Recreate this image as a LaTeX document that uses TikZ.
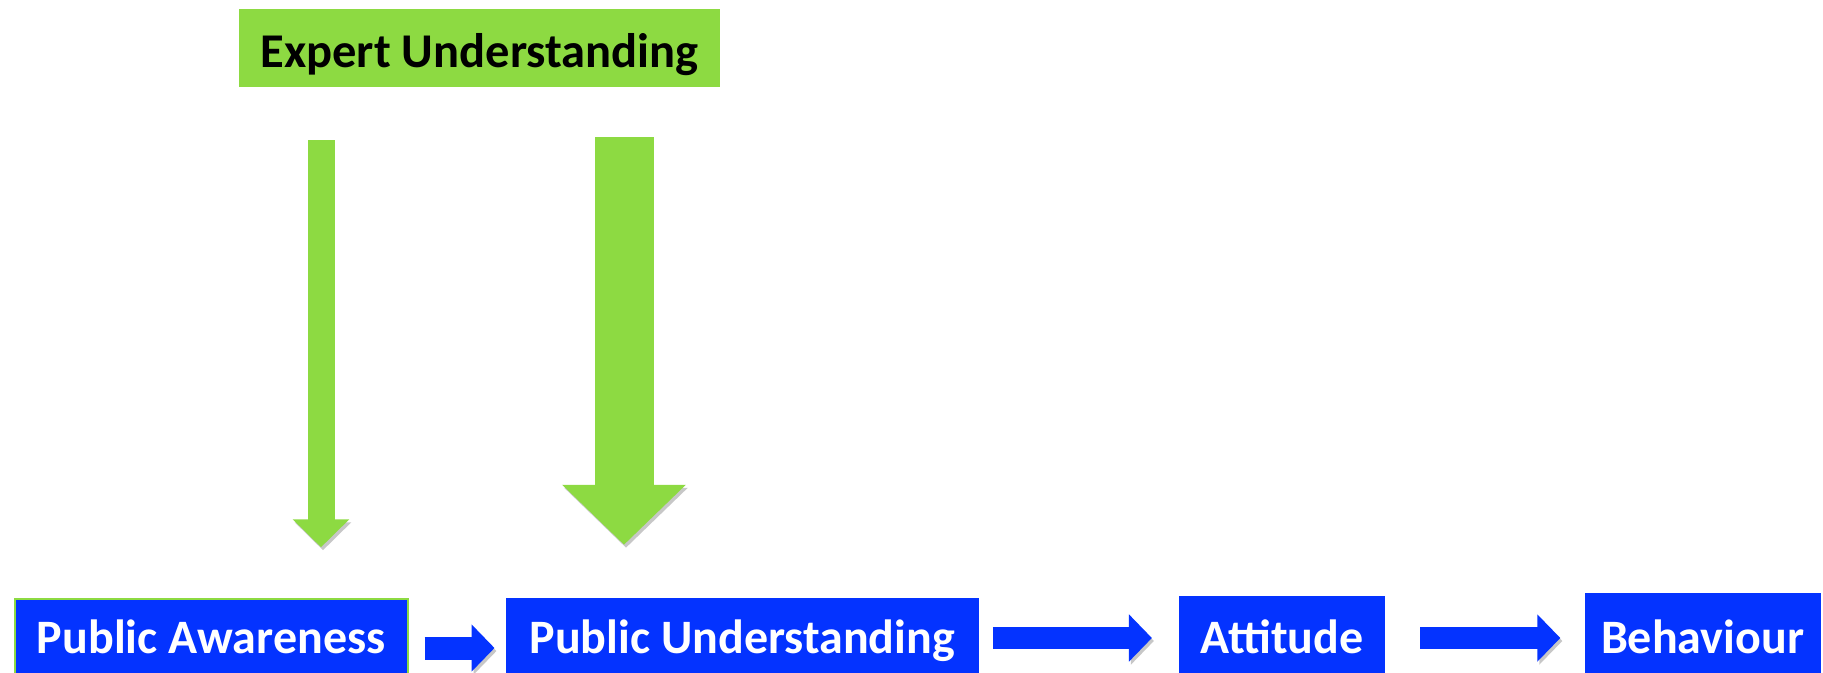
\documentclass[tikz,border=0pt]{standalone}
\usepackage{fontspec}
\setmainfont{Carlito}
\usetikzlibrary{positioning,arrows.meta}
\definecolor{boxblue}{RGB}{4,51,255}
\definecolor{boxgreen}{RGB}{141,218,66}

\begin{document}
\begin{tikzpicture}[x=1pt,y=-1pt,
  box/.style={fill=boxblue,text=white,inner sep=0pt,text depth=40pt,
    font=\fontsize{48}{57}\selectfont\bfseries},
  shade/.style={preaction={draw=black!22,transform canvas={shift={(2pt,-3pt)}}}},
  thinflow/.style={draw=boxgreen,shade,line width=27pt,-{Triangle[width=55pt,length=28pt]}},
  thickflow/.style={draw=boxgreen,shade,line width=59pt,-{Triangle[width=120pt,length=60pt]}},
  stepflow/.style={draw=boxblue,shade,line width=#1,-{Triangle[width=46pt,length=23pt]}}]
\useasboundingbox (0,0) rectangle (1823,672);
\clip (0,0) rectangle (1823,672);

\node[fill=boxgreen,inner sep=0pt,minimum width=481pt,text height=58pt,text depth=20pt,
  anchor=base west,font=\fontsize{48.5}{58}\selectfont\bfseries] (expert) at (239,67) {Expert Understanding};

\node[box,draw=boxgreen,line width=1.5pt,minimum width=393pt,text height=54pt,anchor=base west] (pa) at (14,653) {Public Awareness};
\node[box,minimum width=473pt,text height=55pt,base right=97pt of pa] (pu) {Public Understanding};
\node[box,minimum width=206pt,text height=57pt,base right=200pt of pu] (att) {Attitude};
\node[box,minimum width=236pt,text height=60pt,base right=199pt of att] (beh) {Behaviour};

\draw[thinflow,shorten <=53pt,shorten >=51pt] ([xshift=82pt]expert.south west) -- ([xshift=82pt]expert.south west |- pa.north);
\draw[thickflow,shorten <=50pt,shorten >=53pt] ([xshift=385pt]expert.south west) -- ([xshift=385pt]expert.south west |- pu.north);

\draw[stepflow=23pt,shorten <=16pt,shorten >=11pt] ([yshift=5pt]pa.base east) -- ([yshift=5pt]pu.base west);
\draw[stepflow=22pt,shorten <=14pt,shorten >=27pt] ([yshift=15pt]pu.base east) -- ([yshift=15pt]att.base west);
\draw[stepflow=22pt,shorten <=35pt,shorten >=24pt] ([yshift=15pt]att.base east) -- ([yshift=15pt]beh.base west);
    %
\end{tikzpicture}
\end{document}
